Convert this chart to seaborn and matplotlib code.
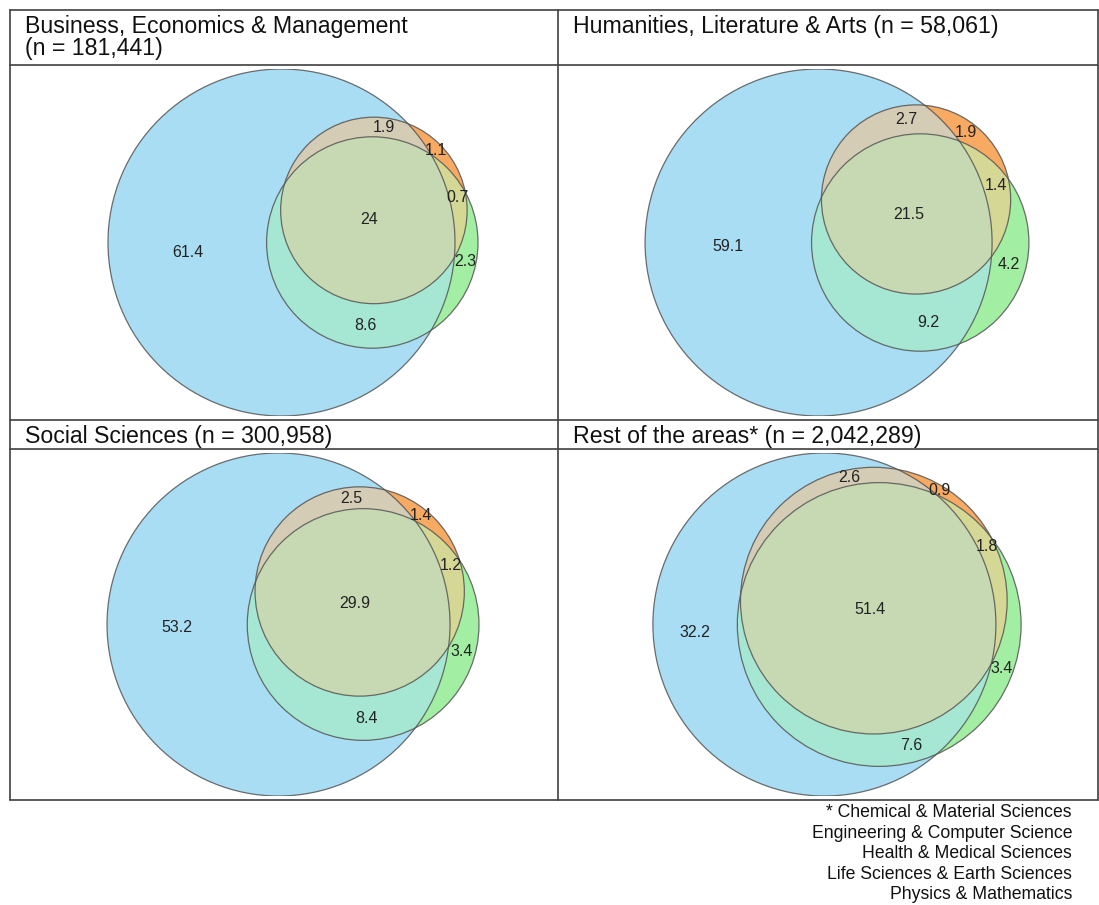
import numpy as np
import matplotlib
matplotlib.use("Agg")
import matplotlib.pyplot as plt
from matplotlib.patches import Circle, Polygon
from matplotlib.lines import Line2D
import seaborn as sns

# Panel titles
titles = [
    "Business, Economics & Management\n(n = 181,441)",
    "Humanities, Literature & Arts (n = 58,061)",
    "Social Sciences (n = 300,958)",
    "Rest of the areas* (n = 2,042,289)",
]

# Region shares (%) for the three sets A (blue), B (orange), C (green)
a_only = [61.4, 59.1, 53.2, 32.2]
b_only = [1.1, 1.9, 1.4, 0.9]
c_only = [2.3, 4.2, 3.4, 3.4]
ab_only = [1.9, 2.7, 2.5, 2.6]
ac_only = [8.6, 9.2, 8.4, 7.6]
bc_only = [0.7, 1.4, 1.2, 1.8]
abc = [24, 21.5, 29.9, 51.4]

footnote = [
    "* Chemical & Material Sciences",
    "Engineering & Computer Science",
    "Health & Medical Sciences",
    "Life Sciences & Earth Sciences",
    "Physics & Mathematics",
]

sns.set_theme(style="white")
plt.rcParams["font.family"] = ["Liberation Sans", "DejaVu Sans"]

# fills: A, B, C, AB, AC, BC, ABC
fills = sns.color_palette(["#a9ddf3", "#f8aa62", "#a2eea2",
                           "#d5ccb6", "#a6e7d3", "#d4d894", "#c6d9b2"])

W, H = 1099, 905
fig = plt.figure(figsize=(W / 100, H / 100), dpi=100)


def lens_area(r1, r2, d):
    if d >= r1 + r2:
        return 0.0
    if d <= abs(r1 - r2):
        return np.pi * min(r1, r2) ** 2
    a1 = r1 ** 2 * np.arccos((d * d + r1 * r1 - r2 * r2) / (2 * d * r1))
    a2 = r2 ** 2 * np.arccos((d * d + r2 * r2 - r1 * r1) / (2 * d * r2))
    a3 = 0.5 * np.sqrt((-d + r1 + r2) * (d + r1 - r2) * (d - r1 + r2) * (d + r1 + r2))
    return a1 + a2 - a3


def solve_dist(r1, r2, target):
    lo, hi = abs(r1 - r2), r1 + r2
    for _ in range(80):
        mid = (lo + hi) / 2
        if lens_area(r1, r2, mid) > target:
            lo = mid
        else:
            hi = mid
    return (lo + hi) / 2


def layout(i):
    sA = a_only[i] + ab_only[i] + ac_only[i] + abc[i]
    sB = b_only[i] + ab_only[i] + bc_only[i] + abc[i]
    sC = c_only[i] + ac_only[i] + bc_only[i] + abc[i]
    rA, rB, rC = [np.sqrt(s / np.pi) for s in (sA, sB, sC)]
    dAB = solve_dist(rA, rB, ab_only[i] + abc[i])
    dAC = solve_dist(rA, rC, ac_only[i] + abc[i])
    dBC = solve_dist(rB, rC, bc_only[i] + abc[i])
    xB = (dAB ** 2 - dBC ** 2 + dAC ** 2) / (2 * dAC)
    yB = np.sqrt(max(dAB ** 2 - xB ** 2, 0))
    return [(0.0, 0.0, rA), (xB, yB, rB), (dAC, 0.0, rC)]


def inter_poly(circs, n=2000):
    pts = []
    t = np.linspace(0, 2 * np.pi, n, endpoint=False)
    for j, (x, y, r) in enumerate(circs):
        p = np.column_stack([x + r * np.cos(t), y + r * np.sin(t)])
        keep = np.ones(n, bool)
        for k, (x2, y2, r2) in enumerate(circs):
            if k != j:
                keep &= np.hypot(p[:, 0] - x2, p[:, 1] - y2) <= r2 + 1e-9
        pts.append(p[keep])
    pts = np.vstack(pts)
    c = pts.mean(axis=0)
    order = np.argsort(np.arctan2(pts[:, 1] - c[1], pts[:, 0] - c[0]))
    return pts[order]


def px_rect(x0, y0, x1, y1):
    return [x0 / W, 1 - y1 / H, (x1 - x0) / W, (y1 - y0) / H]


# table cells (pixels): plot areas
cells = [(10, 65, 558, 420), (558, 65, 1098, 420),
         (10, 449, 558, 800), (558, 449, 1098, 800)]
header_base = [33, 33, 443, 443]

patterns = [(1, 0, 0), (0, 1, 0), (0, 0, 1), (1, 1, 0), (1, 0, 1), (0, 1, 1), (1, 1, 1)]

for i in range(4):
    circs = layout(i)
    values = [a_only[i], b_only[i], c_only[i], ab_only[i], ac_only[i], bc_only[i], abc[i]]
    x0, y0, x1, y1 = cells[i]
    ax = fig.add_axes(px_rect(x0 + 9, y0 + 4, x1 + 9, y1 - 4))
    ax.set_axis_off()

    for (x, y, r), col in zip(circs, fills[:3]):
        ax.add_patch(Circle((x, y), r, fc=col, ec="none"))
    for (a, b), col in zip([(0, 1), (0, 2), (1, 2)], fills[3:6]):
        ax.add_patch(Polygon(inter_poly([circs[a], circs[b]]), closed=True, fc=col, ec="none"))
    ax.add_patch(Polygon(inter_poly(circs), closed=True, fc=fills[6], ec="none"))
    for x, y, r in circs:
        ax.add_patch(Circle((x, y), r, fill=False, ec="#555555", lw=0.9, alpha=0.85))

    xmin = min(x - r for x, y, r in circs)
    xmax = max(x + r for x, y, r in circs)
    ymin = min(y - r for x, y, r in circs)
    ymax = max(y + r for x, y, r in circs)

    # label positions: point of each region farthest from any circle edge
    gx = np.linspace(xmin, xmax, 600)
    gy = np.linspace(ymin, ymax, 600)
    X, Y = np.meshgrid(gx, gy)
    inside = [np.hypot(X - x, Y - y) <= r for x, y, r in circs]
    dist = np.min([np.abs(np.hypot(X - x, Y - y) - r) for x, y, r in circs], axis=0)
    for pat, v in zip(patterns, values):
        m = np.ones_like(X, bool)
        for k in range(3):
            m &= inside[k] == bool(pat[k])
        if not m.any():
            continue
        idx = np.argmax(np.where(m, dist, -1))
        ax.text(X.flat[idx], Y.flat[idx], f"{v:g}", ha="center", va="center",
                fontsize=11.5, color="#222222")

    ax.set_xlim(xmin, xmax)
    ax.set_ylim(ymin, ymax)
    ax.set_aspect("equal", adjustable="datalim")

    # header text
    for j, line in enumerate(titles[i].split("\n")):
        fig.text((x0 + 15) / W, 1 - (header_base[i] + 22 * j) / H, line,
                 ha="left", va="baseline", fontsize=16.7, color="#111111")

# table borders
lc = "#404040"
for y in [10, 65, 420, 449, 800]:
    fig.add_artist(Line2D([10 / W, 1098 / W], [1 - y / H, 1 - y / H], color=lc, lw=1.2))
for x in [10, 558, 1098]:
    fig.add_artist(Line2D([x / W, x / W], [1 - 10 / H, 1 - 800 / H], color=lc, lw=1.2))

for j, line in enumerate(footnote):
    fig.text(1072 / W, 1 - (817 + 20.6 * j) / H, line, ha="right", va="baseline",
             fontsize=12.7, color="#111111")

fig.savefig("out.png", dpi=100)
